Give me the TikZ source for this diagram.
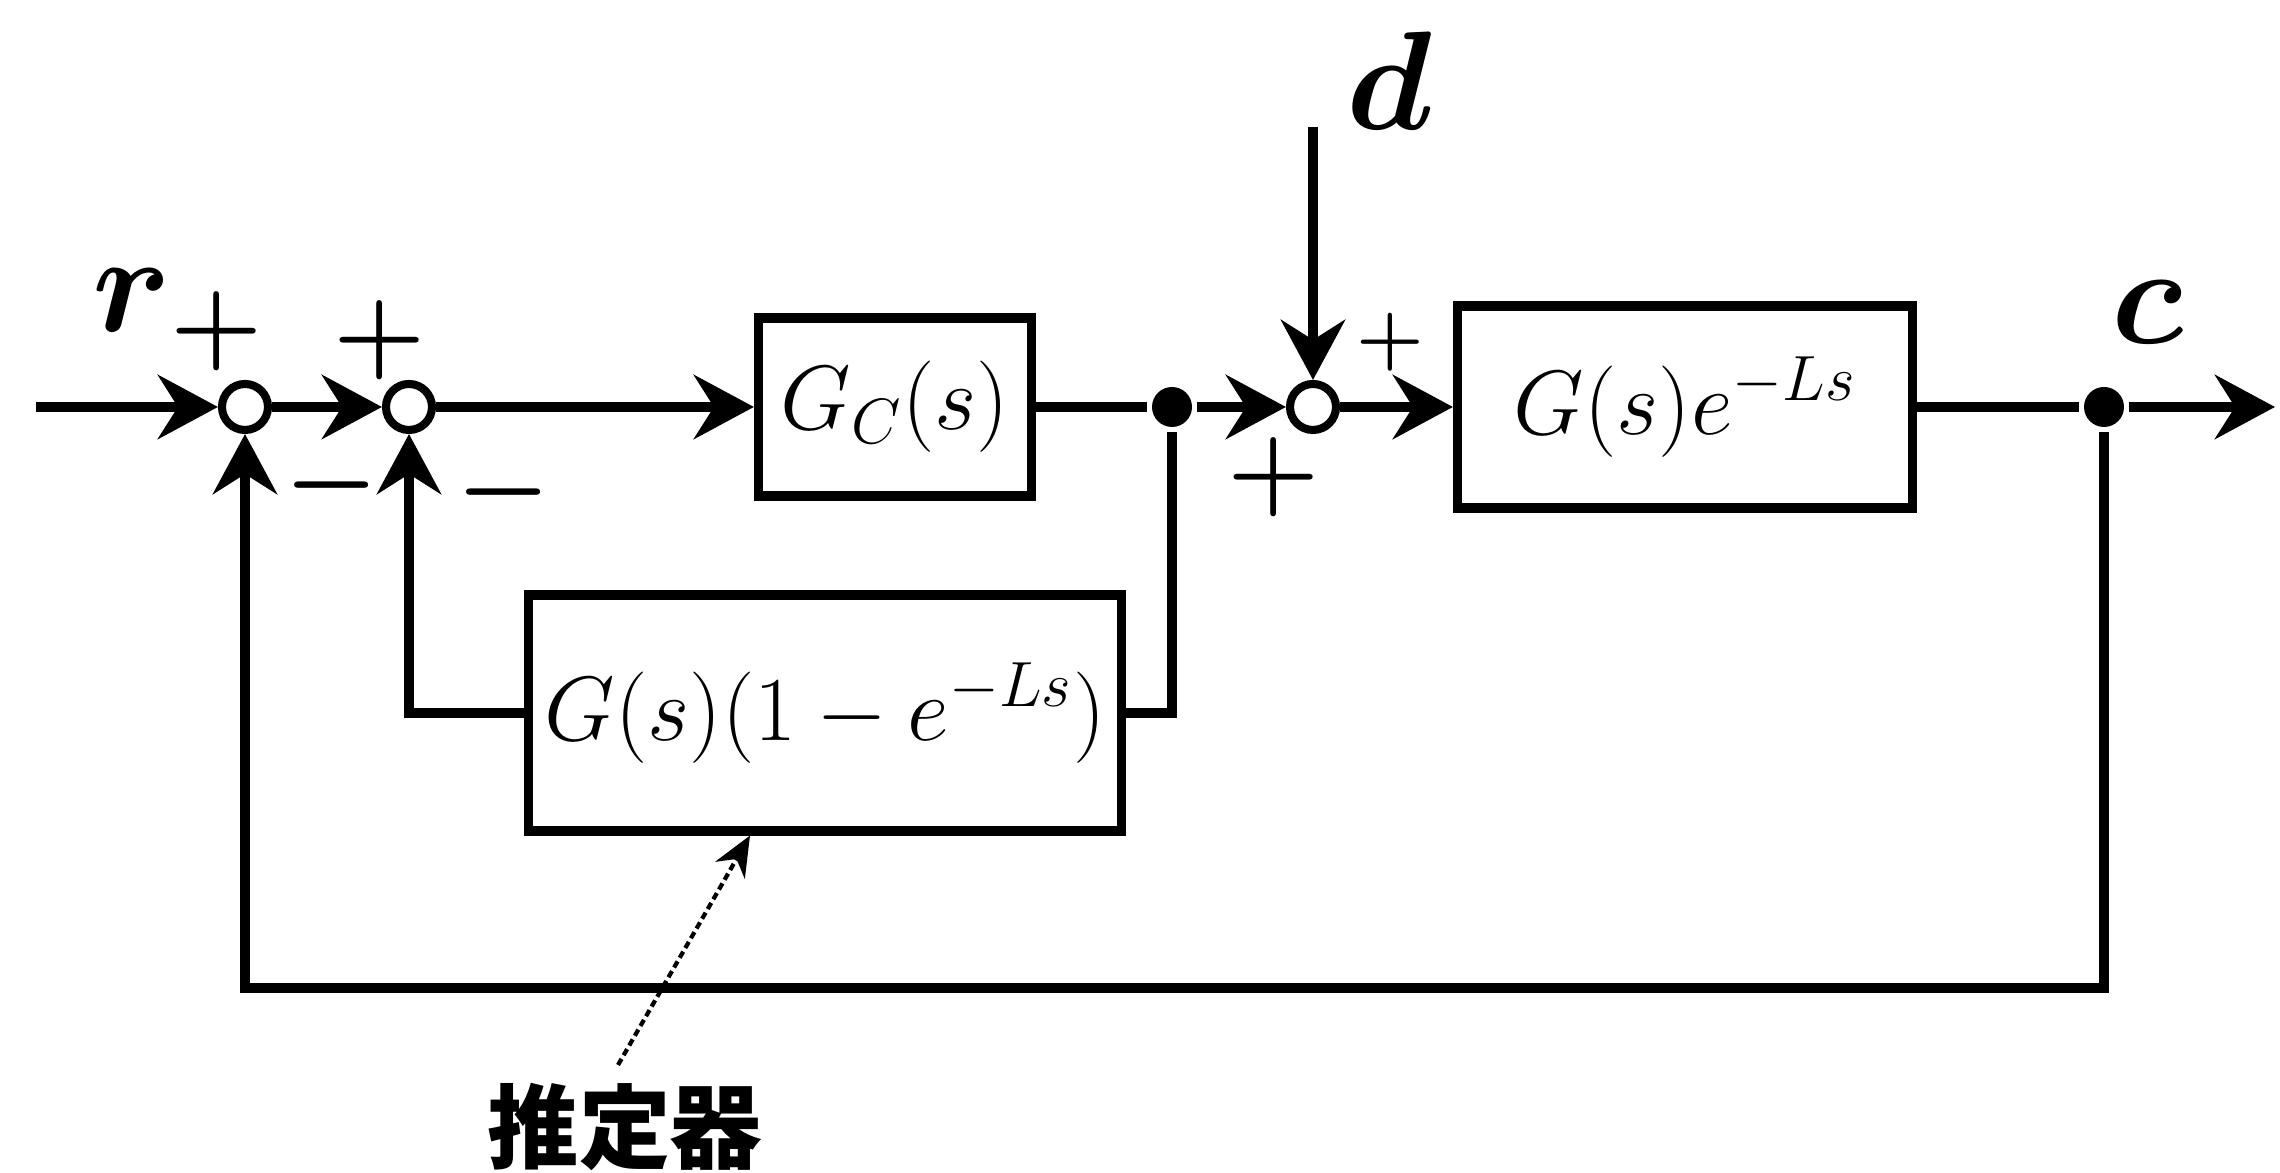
\RequirePackage{fix-cm}
\documentclass[tikz,border=0pt]{standalone}
\usepackage{fontspec}
\newfontfamily\cjkfont{Noto Sans CJK JP}
\usetikzlibrary{arrows.meta}

\begin{document}
\begin{tikzpicture}[
		line width=2.8pt,
		arr/.style={-{Stealth[length=0.6cm,width=0.64cm,inset=0.2cm]}},
		blockbox/.style={draw, line width=2.6pt, inner sep=0pt, font=\fontsize{26}{30}\selectfont},
		sumpt/.style={draw, circle, line width=2.3pt, minimum size=0.46cm, inner sep=0pt},
		joint/.style={fill, circle, minimum size=0.4cm, inner sep=0pt},
		sig/.style={font=\fontsize{40}{44}\selectfont\boldmath},
		sgn/.style={font=\fontsize{30}{34}\selectfont\boldmath},
	]
		%%%%% START %%%%%
		\useasboundingbox (0,0) rectangle (22.8,11.73);
		
		% forward path
		\coordinate (in) at (0.36,7.66);
		\node[sumpt] (s1) at (2.45,7.66) {};
		\node[sumpt] (s2) at (4.09,7.66) {};
		\node[blockbox, minimum width=2.73cm, minimum height=1.78cm] (gc) at (8.95,7.66) {$G_C(s)$};
		\node[joint] (j1) at (11.72,7.66) {};
		\node[sumpt] (s3) at (13.13,7.66) {};
		\node[blockbox, minimum width=4.55cm, minimum height=2.02cm] (gp) at (16.85,7.66) {$G(s)e^{-Ls}$};
		\node[joint] (j2) at (21.04,7.66) {};
		\coordinate (out) at (22.75,7.66);
		\coordinate (dist) at (13.13,10.46);
		
		\draw[arr] (in) -- (s1);
		\draw[arr] (s1) -- (s2);
		\draw[arr] (s2) -- (gc);
		\draw (gc) -- (j1);
		\draw[arr] (j1) -- (s3);
		\draw[arr] (dist) -- (s3);
		\draw[arr] (s3) -- (gp);
		\draw (gp) -- (j2);
		\draw[arr] (j2) -- (out);
		
		% estimator loop
		\node[blockbox, minimum width=5.93cm, minimum height=2.36cm] (est) at (8.25,4.6) {$G(s)(1-e^{-Ls})$};
		\draw (j1) |- (est.east);
		\draw[arr] (est.west) -| (s2);
		
		% outer loop
		\coordinate (fb) at (2.45,1.85);
		\draw[arr] (j2) |- (fb) -- (s1);
		
		% signals
		\node[sig] (r) at (1.32,8.73) {$r$};
		\node[sig] (d) at (13.89,10.92) {$d$};
		\node[sig] (c) at (21.48,8.61) {$c$};
		
		% signs
		\node[sgn] at (2.17,8.42) {$+$};
		\node[sgn] at (3.80,8.33) {$+$};
		\node[sgn] at (3.32,6.88) {$-$};
		\node[sgn] at (5.04,6.81) {$-$};
		\node[font=\fontsize{22}{26}\selectfont\boldmath] at (13.90,8.31) {$+$};
		\node[sgn] at (12.74,6.96) {$+$};
		
		% estimator label
		\node[font=\cjkfont\bfseries\fontsize{26}{30}\selectfont] (estlbl) at (6.25,0.46) {推定器};
		\coordinate (ptr) at (6.18,1.08);
		\coordinate (ptrx) at (7.5,0);
		\draw[line width=1.2pt, dash pattern=on 2pt off 1.2pt, -{Stealth[length=0.4cm,width=0.34cm]}] (ptr) -- (ptrx |- est.south);
		
		%%%%% END %%%%%
	\end{tikzpicture}
\end{document}
